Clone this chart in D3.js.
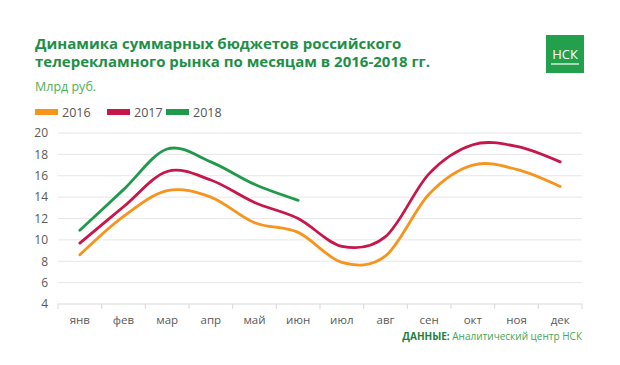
<!DOCTYPE html>
<html>
<head>
<meta charset="utf-8">
<script src="https://cdn.jsdelivr.net/npm/d3@7"></script>
<style>
  body { margin: 0; background: #fff; }
  svg { display: block; font-family: 'Open Sans', sans-serif; }
</style>
</head>
<body>
<div class="chart"></div>
<script>
const months = ['янв', 'фев', 'мар', 'апр', 'май', 'июн', 'июл', 'авг', 'сен', 'окт', 'ноя', 'дек'];
const years = ['2016', '2017', '2018'];
const values2016 = [8.6, 12.2, 14.6, 14.0, 11.6, 10.7, 7.9, 8.5, 14.3, 17.0, 16.6, 15.0];
const values2017 = [9.7, 13.1, 16.4, 15.6, 13.5, 12.0, 9.4, 10.3, 16.2, 18.9, 18.75, 17.3];
const values2018 = [10.9, 14.7, 18.5, 17.3, 15.2, 13.7];
const yTicks = [4, 6, 8, 10, 12, 14, 16, 18, 20];
const colorList = ['#f7941d', '#c8154a', '#1f9a4b'];

const width = 620;
const height = 365;
const margin = { top: 133, right: 38, bottom: 61, left: 58 };

const svg = d3
  .select('.chart')
  .append('svg')
  .attr('width', width)
  .attr('height', height);

// title
const title = svg
  .append('text')
  .attr('x', 35)
  .attr('y', 49)
  .attr('fill', '#1f8f47')
  .style('font-size', '15px')
  .style('font-weight', 700);
title.append('tspan').attr('x', 35).text('Динамика суммарных бюджетов российского');
title.append('tspan').attr('x', 35).attr('dy', 18).text('телерекламного рынка по месяцам в 2016-2018 гг.');

// logo
svg
  .append('rect')
  .attr('x', 546)
  .attr('y', 35)
  .attr('width', 38)
  .attr('height', 38)
  .attr('fill', '#23a04b');
svg
  .append('text')
  .attr('x', 565)
  .attr('y', 59)
  .attr('text-anchor', 'middle')
  .attr('fill', '#fff')
  .style('font-size', '13px')
  .text('НСК');
svg
  .append('line')
  .attr('x1', 551)
  .attr('x2', 579)
  .attr('y1', 64)
  .attr('y2', 64)
  .attr('stroke', '#fff')
  .attr('stroke-width', 1.2);

svg
  .append('text')
  .attr('x', 35)
  .attr('y', 91)
  .attr('fill', '#4fae5a')
  .style('font-size', '12.5px')
  .text('Млрд руб.');

// legend
const legendX = [35, 107, 166];
const legend = svg
  .selectAll('.legend')
  .data(years)
  .enter()
  .append('g')
  .attr('class', 'legend')
  .attr('transform', (d, i) => `translate(${legendX[i]}, 112)`);
legend
  .append('rect')
  .attr('x', 0)
  .attr('y', -3)
  .attr('width', 23)
  .attr('height', 6)
  .attr('fill', (d, i) => colorList[i]);
legend
  .append('text')
  .attr('x', 27)
  .attr('y', 5)
  .attr('fill', '#555')
  .style('font-size', '12.5px')
  .text((d) => d);

const graphWidth = width - margin.left - margin.right;
const graphHeight = height - margin.top - margin.bottom;

const graph = svg
  .append('g')
  .attr('transform', `translate(${margin.left}, ${margin.top})`);

const x = d3.scaleBand().domain(months).range([0, graphWidth]);
const y = d3.scaleLinear().domain([4, 20]).range([graphHeight, 0]);

// grid
graph
  .selectAll('.grid')
  .data(yTicks)
  .enter()
  .append('line')
  .attr('x1', 0)
  .attr('x2', graphWidth)
  .attr('y1', (d) => y(d))
  .attr('y2', (d) => y(d))
  .attr('stroke', (d) => (d === 4 ? '#d9d9d9' : '#e6e6e6'))
  .attr('stroke-width', 1);

const yAxis = d3.axisLeft(y).tickValues(yTicks).tickSize(0).tickPadding(10);
graph
  .append('g')
  .call(yAxis)
  .call((g) => g.select('.domain').remove())
  .selectAll('text')
  .attr('fill', '#595959')
  .style('font-size', '12px')
  .style('font-family', "'Open Sans', sans-serif");

// category boundary ticks
const bounds = months.map((m) => x(m)).concat([graphWidth]);
graph
  .selectAll('.xtick')
  .data(bounds)
  .enter()
  .append('line')
  .attr('x1', (d) => d)
  .attr('x2', (d) => d)
  .attr('y1', graphHeight)
  .attr('y2', graphHeight + 5)
  .attr('stroke', '#d9d9d9');

graph
  .selectAll('.xlabel')
  .data(months)
  .enter()
  .append('text')
  .attr('x', (d) => x(d) + x.bandwidth() / 2)
  .attr('y', graphHeight + 20)
  .attr('text-anchor', 'middle')
  .attr('fill', '#595959')
  .style('font-size', '11.5px')
  .text((d) => d);

const line = d3
  .line()
  .x((d, i) => x(months[i]) + x.bandwidth() / 2)
  .y((d) => y(d))
  .curve(d3.curveCatmullRom.alpha(0));

[values2016, values2017, values2018].forEach((vals, i) => {
  graph
    .append('path')
    .datum(vals)
    .attr('d', line)
    .attr('fill', 'none')
    .attr('stroke', colorList[i])
    .attr('stroke-width', 2.8)
    .attr('stroke-linecap', 'round');
});

// source
const source = svg
  .append('text')
  .attr('x', 582)
  .attr('y', 340)
  .attr('text-anchor', 'end')
  .style('font-size', '10px');
source.append('tspan').attr('fill', '#1b7f3e').style('font-weight', 700).text('ДАННЫЕ: ');
source.append('tspan').attr('fill', '#3fa657').text('Аналитический центр НСК');
</script>
</body>
</html>
